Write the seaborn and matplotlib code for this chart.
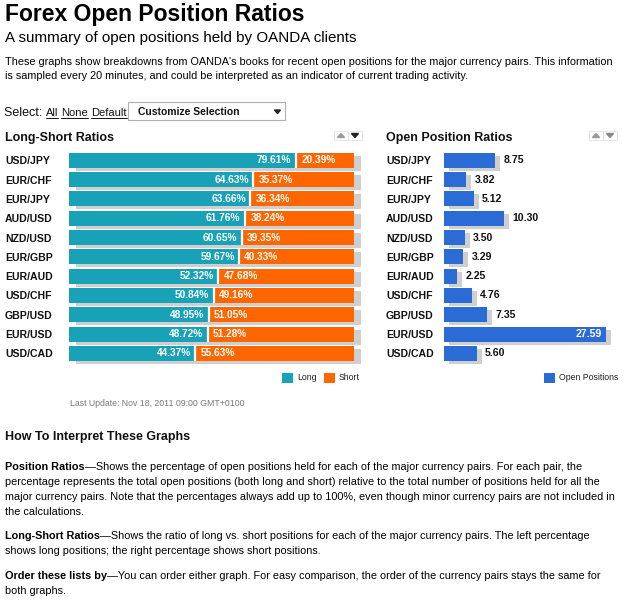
import matplotlib
matplotlib.use("Agg")
import matplotlib.pyplot as plt
import matplotlib.transforms as mtransforms
from matplotlib.patches import Rectangle, Polygon
import seaborn as sns
import pandas as pd

# ---------------- data ----------------
pairs = ["USD/JPY", "EUR/CHF", "EUR/JPY", "AUD/USD", "NZD/USD", "EUR/GBP",
         "EUR/AUD", "USD/CHF", "GBP/USD", "EUR/USD", "USD/CAD"]
long_pct = [79.61, 64.63, 63.66, 61.76, 60.65, 59.67, 52.32, 50.84, 48.95, 48.72, 44.37]
short_pct = [20.39, 35.37, 36.34, 38.24, 39.35, 40.33, 47.68, 49.16, 51.05, 51.28, 55.63]
open_pos = [8.75, 3.82, 5.12, 10.30, 3.50, 3.29, 2.25, 4.76, 7.35, 27.59, 5.60]

TEAL = "#17a2b8"
ORANGE = "#ff6600"
BLUE = "#2a6bd6"
SHADOW = "#cfcfcf"
FONT = "Liberation Sans"

sns.set_theme(style="white")
plt.rcParams["font.family"] = [FONT, "DejaVu Sans"]

W, H = 625, 609
fig = plt.figure(figsize=(W / 100, H / 100), dpi=100)
fig.patch.set_facecolor("white")


def fx(x):
    return x / W


def fy(y):
    return 1 - y / H


def txt(x, y, s, **kw):
    kw.setdefault("va", "baseline")
    kw.setdefault("ha", "left")
    return fig.text(fx(x), fy(y), s, **kw)


renderer = fig.canvas.get_renderer()


def runs(x, y, parts, **common):
    """Draw consecutive text runs; parts = (text, kwargs, underline)."""
    cur = x
    for s, kw, ul in parts:
        k = dict(common)
        k.update(kw)
        t = txt(cur, y, s, **k)
        bb = t.get_window_extent(renderer=renderer)
        wpx = bb.width
        if ul:
            fig.add_artist(plt.Line2D([fx(cur), fx(cur + wpx)], [fy(y + 2), fy(y + 2)],
                                      transform=fig.transFigure, color=k.get("color", "black"), lw=0.7))
        cur += wpx
    return cur


# ---------------- header text ----------------
txt(5, 21.5, "Forex Open Position Ratios", fontsize=16.5, fontweight="bold", color="black")
txt(5, 42, "A summary of open positions held by OANDA clients", fontsize=10.9, color="black")
txt(5, 65, "These graphs show breakdowns from OANDA's books for recent open positions for the major currency pairs. This information",
    fontsize=7.8, color="black")
txt(5, 79, "is sampled every 20 minutes, and could be interpreted as an indicator of current trading activity.",
    fontsize=7.8, color="black")

sp = " "
runs(4, 116, [("Select: ", {"fontsize": 9}, False),
              ("All", {"fontsize": 8}, True), (sp, {"fontsize": 8}, False),
              ("None", {"fontsize": 8}, True), (sp, {"fontsize": 8}, False),
              ("Default", {"fontsize": 8}, True)], color="#111111")
fig.add_artist(Rectangle((fx(128), fy(120)), fx(157), 18 / H, transform=fig.transFigure,
                         facecolor="white", edgecolor="#b0b0b0", lw=0.8))
txt(138, 115, "Customize Selection", fontsize=7.5, fontweight="bold", color="#111111")
fig.add_artist(Polygon([[fx(274.5), fy(110)], [fx(280.5), fy(110)], [fx(277.5), fy(113.5)]],
                       closed=True, transform=fig.transFigure, color="#222222"))

# ---------------- chart headings ----------------
txt(5, 141, "Long-Short Ratios", fontsize=9, fontweight="bold", color="#111111")
txt(386, 141, "Open Position Ratios", fontsize=9, fontweight="bold", color="#111111")


def arrows(x0, down_color):
    for i, col in enumerate(["#9a9a9a", down_color]):
        xl = x0 + i * 14
        fig.add_artist(Rectangle((fx(xl), fy(140)), 14 / W, 9 / H, transform=fig.transFigure,
                                 facecolor="white", edgecolor="#e2e2e2", lw=0.6))
        cx = xl + 7
        if i == 0:
            pts = [[fx(cx - 3.5), fy(137.5)], [fx(cx + 3.5), fy(137.5)], [fx(cx), fy(133.5)]]
        else:
            pts = [[fx(cx - 3.5), fy(133.5)], [fx(cx + 3.5), fy(133.5)], [fx(cx), fy(137.5)]]
        fig.add_artist(Polygon(pts, closed=True, transform=fig.transFigure, color=col))


arrows(334, "#222222")
arrows(589, "#888888")

# ---------------- axes geometry ----------------
row0, step = 160.3, 19.3
top = row0 - step / 2
height = step * len(pairs)
bar_w = 15 / step
n = len(pairs)

df = pd.DataFrame({"pair": pairs, "long": long_pct, "short": short_pct})
df["total"] = df["long"] + df["short"]
df["open"] = open_pos

shadow_L = mtransforms.ScaledTranslation(7 / 100, -3 / 100, fig.dpi_scale_trans)
shadow_R = mtransforms.ScaledTranslation(5 / 100, -3 / 100, fig.dpi_scale_trans)

# Left chart
axL = fig.add_axes([fx(69), fy(top + height), 285 / W, height / H])
sns.barplot(data=df, y="pair", x="total", color=SHADOW, saturation=1, width=bar_w, ax=axL, orient="h")
for p in axL.patches:
    p.set_transform(axL.transData + shadow_L)
    p.set_clip_on(False)
sns.barplot(data=df, y="pair", x="total", color=ORANGE, saturation=1, width=bar_w, ax=axL, orient="h")
sns.barplot(data=df, y="pair", x="long", color=TEAL, saturation=1, width=bar_w, ax=axL, orient="h")
for p in axL.patches:
    p.set_linewidth(0)
ypos = list(range(n))
axL.vlines(df["long"], [y - bar_w / 2 for y in ypos], [y + bar_w / 2 for y in ypos],
           color="white", lw=1.6)
axL.set_xlim(0, 100)
for i, (lv, sv) in enumerate(zip(long_pct, short_pct)):
    axL.annotate(f"{lv:.2f}%", (lv, i), xytext=(-3.2, 0), textcoords="offset points",
                 ha="right", va="center", color="white", fontsize=7.3, fontweight="bold")
    axL.annotate(f"{sv:.2f}%", (lv, i), xytext=(3.8, 0), textcoords="offset points",
                 ha="left", va="center", color="white", fontsize=7.3, fontweight="bold")

# Right chart
axR = fig.add_axes([fx(444), fy(top + height), 176 / W, height / H])
sns.barplot(data=df, y="pair", x="open", color=SHADOW, saturation=1, width=bar_w, ax=axR, orient="h")
for p in axR.patches:
    p.set_transform(axR.transData + shadow_R)
    p.set_clip_on(False)
sns.barplot(data=df, y="pair", x="open", color=BLUE, saturation=1, width=bar_w, ax=axR, orient="h")
for p in axR.patches:
    p.set_linewidth(0)
axR.set_xlim(0, 30)
vmax = max(open_pos)
for i, v in enumerate(open_pos):
    if v == vmax:
        axR.annotate(f"{v:.2f}", (v, i), xytext=(-3, 0), textcoords="offset points",
                     ha="right", va="center", color="white", fontsize=7.6, fontweight="bold")
    else:
        axR.annotate(f"{v:.2f}", (v, i), xytext=(5.8, 0), textcoords="offset points",
                     ha="left", va="center", color="#111111", fontsize=7.6, fontweight="bold")

for ax, lab_left in ((axL, 5), (axR, 386)):
    ax.set_ylim(n - 0.5, -0.5)
    ax.set_xlabel("")
    ax.set_ylabel("")
    ax.set_xticks([])
    for s in ax.spines.values():
        s.set_visible(False)
    ax.set_facecolor("none")
    pos_left_px = ax.get_position().x0 * W
    ax.tick_params(axis="y", length=0, pad=(pos_left_px - lab_left) * 0.72, labelsize=7.6)
    for t in ax.get_yticklabels():
        t.set_ha("left")
        t.set_fontweight("bold")
        t.set_color("#111111")

# ---------------- legends ----------------
def legend_box(x, col, label):
    fig.add_artist(Rectangle((fx(x), fy(383)), 11 / W, 10 / H, transform=fig.transFigure,
                             facecolor=col, edgecolor="none"))
    txt(x + 15, 378, label, va="center", fontsize=6.3, color="#222222")


legend_box(282, TEAL, "Long")
legend_box(324, ORANGE, "Short")
legend_box(544, BLUE, "Open Positions")

txt(70, 404, "Last Update: Nov 18, 2011 09:00 GMT+0100", va="center", fontsize=6.3, color="#777777")

# ---------------- explanation ----------------
txt(5, 440, "How To Interpret These Graphs", fontsize=9, fontweight="bold", color="#111111")
body = 7.85
B = {"fontsize": body, "fontweight": "bold"}
R = {"fontsize": body}
runs(5, 470, [("Position Ratios", B, False),
              ("\u2014Shows the percentage of open positions held for each of the major currency pairs. For each pair, the", R, False)],
     color="black")
txt(5, 485, "percentage represents the total open positions (both long and short) relative to the total number of positions held for all the", **R, color="black")
txt(5, 500, "major currency pairs. Note that the percentages always add up to 100%, even though minor currency pairs are not included in", **R, color="black")
txt(5, 515, "the calculations.", **R, color="black")
runs(5, 539, [("Long-Short Ratios", B, False),
              ("\u2014Shows the ratio of long vs. short positions for each of the major currency pairs. The left percentage", R, False)],
     color="black")
txt(5, 554, "shows long positions; the right percentage shows short positions.", **R, color="black")
runs(5, 579, [("Order these lists by", B, False),
              ("\u2014You can order either graph. For easy comparison, the order of the currency pairs stays the same for", R, False)],
     color="black")
txt(5, 594, "both graphs.", **R, color="black")

fig.savefig("out.png", dpi=100, facecolor="white")
